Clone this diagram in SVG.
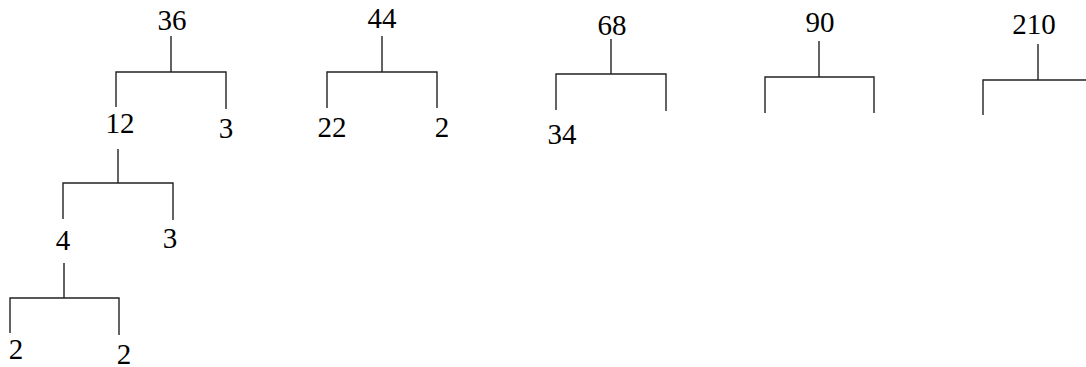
<svg xmlns="http://www.w3.org/2000/svg" width="1086" height="367" viewBox="0 0 1086 367">
<style>
.c{fill:none;stroke:#222;stroke-width:1.4}
</style>
<rect width="1086" height="367" fill="#fff"/>
<g id="connectors">
<path class="c" d="M171 36V72M116 107V72H226V109"/>
<path class="c" d="M118 149V183M63 219V183H173V220"/>
<path class="c" d="M64 263V298M10 333V298H119V335"/>
<path class="c" d="M382 36V72M327 108V72H437V108"/>
<path class="c" d="M611 39V74M556 110V74H666V111"/>
<path class="c" d="M819 41V77M765 113V77H874V113"/>
<path class="c" d="M1038 44V80M983 115V80H1086"/>
</g>
<g font-family="Liberation Serif, Times New Roman, serif" font-size="29" fill="#000" text-anchor="middle">
<g id="n36"><text x="172" y="30">36</text></g>
<g id="n12"><text x="120" y="133">12</text></g>
<g id="n3a"><text x="226" y="138">3</text></g>
<g id="n4"><text x="63" y="250">4</text></g>
<g id="n3b"><text x="170" y="248">3</text></g>
<g id="n2a"><text x="16" y="359">2</text></g>
<g id="n2b"><text x="124" y="364">2</text></g>
<g id="n44"><text x="382" y="28">44</text></g>
<g id="n22"><text x="332" y="137">22</text></g>
<g id="n2c"><text x="442" y="137">2</text></g>
<g id="n68"><text x="612" y="35">68</text></g>
<g id="n34"><text x="562" y="144">34</text></g>
<g id="n90"><text x="820" y="32">90</text></g>
<g id="n210"><text x="1034" y="34">210</text></g>
</g>
</svg>
